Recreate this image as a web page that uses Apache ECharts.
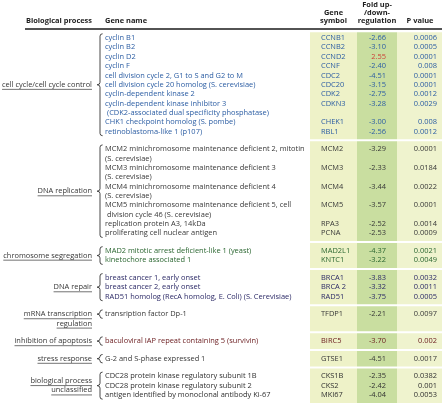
<!DOCTYPE html>
<html><head><meta charset="utf-8">
<script src="https://cdn.jsdelivr.net/npm/echarts@6/dist/echarts.min.js"></script>
<style>html,body{margin:0;padding:0;background:#fff}#c{width:442px;height:403px}</style>
</head><body><div id="c"></div>
<script>
// ---------------- DATA ----------------
const groupNames = [
  'cell cycle/cell cycle control',
  'DNA replication',
  'chromosome segregation',
  'DNA repair',
  'mRNA transcription\nregulation',
  'inhibition of apoptosis',
  'stress response',
  'biological process\nunclassified'
];
const geneNames = [
  ['cyclin B1','cyclin B2','cyclin D2','cyclin F','cell division cycle 2, G1 to S and G2 to M',
   'cell division cycle 20 homolog (S. cerevisiae)','cyclin-dependent kinase 2',
   'cyclin-dependent kinase inhibitor 3\n (CDK2-associated dual specificity phosphatase)',
   'CHK1 checkpoint homolog (S. pombe)','retinoblastoma-like 1 (p107)'],
  ['MCM2 minichromosome maintenance deficient 2, mitotin\n(S. cerevisiae)',
   'MCM3 minichromosome maintenance deficient 3\n(S. cerevisiae)',
   'MCM4 minichromosome maintenance deficient 4\n(S. cerevisiae)',
   'MCM5 minichromosome maintenance deficient 5, cell\n division cycle 46 (S. cerevisiae)',
   'replication protein A3, 14kDa','proliferating cell nuclear antigen'],
  ['MAD2 mitotic arrest deficient-like 1 (yeast)','kinetochore associated 1'],
  ['breast cancer 1, early onset','breast cancer 2, early onset','RAD51 homolog (RecA homolog, E. Coli) (S. Cerevisiae)'],
  ['transription factor Dp-1'],
  ['baculoviral IAP repeat containing 5 (survivin)'],
  ['G-2 and S-phase expressed 1'],
  ['CDC28 protein kinase regulatory subunit 1B','CDC28 protein kinase regulatory subunit 2','antigen identified by monoclonal antibody Ki-67']
];
const geneSymbols = [
  ['CCNB1','CCNB2','CCND2','CCNF','CDC2','CDC20','CDK2','CDKN3','CHEK1','RBL1'],
  ['MCM2','MCM3','MCM4','MCM5','RPA3','PCNA'],
  ['MAD2L1','KNTC1'],
  ['BRCA1','BRCA 2','RAD51'],
  ['TFDP1'],
  ['BIRC5'],
  ['GTSE1'],
  ['CKS1B','CKS2','MKI67']
];
const foldChanges = [
  [-2.66,-3.10,2.55,-2.40,-4.51,-3.15,-2.75,-3.28,-3.00,-2.56],
  [-3.29,-2.33,-3.44,-3.57,-2.52,-2.53],
  [-4.37,-3.22],
  [-3.83,-3.32,-3.75],
  [-2.21],
  [-3.70],
  [-4.51],
  [-2.35,-2.42,-4.04]
];
const pValues = [
  ['0.0006','0.0005','0.0001','0.008','0.0001','0.0001','0.0012','0.0029','0.008','0.0012'],
  ['0.0001','0.0184','0.0022','0.0001','0.0014','0.0009'],
  ['0.0021','0.0049'],
  ['0.0032','0.0011','0.0005'],
  ['0.0097'],
  ['0.002'],
  ['0.0017'],
  ['0.0382','0.001','0.0053']
];
const headerLabels = {
  process: 'Biological process',
  name: 'Gene name',
  symbol: 'Gene\nsymbol',
  fold: 'Fold up-\n/down-\nregulation',
  p: 'P value'
};

// ---------------- STYLE / LAYOUT ----------------
const groupColors = ['#2b5da3','#383838','#2a6630','#2b2966','#383838','#691a1d','#383838','#303030'];
const upColor = '#cc4238';
const labelColor = '#353535';
const FONT = '"Open Sans", "Noto Sans", sans-serif';
const cv = document.createElement('canvas').getContext('2d');
cv.font = '10px "Open Sans"';
const FS = Math.max(6, Math.min(9, 10 * 200 / cv.measureText('MCM2 minichromosome maintenance deficient 2, mitotin').width));
function textW(t, bold) { cv.font = (bold ? 'bold ' : '') + FS + 'px "Open Sans"'; return cv.measureText(t).width; }

const X = { ruleLeft: 25, labelRight: 92, braceX: 100, name: 105, sym: 321, foldRight: 386, pRight: 437 };
const columns = [[310, 357, '#eef2c8'], [357, 397, '#c9dea0'], [397, 442, '#eff3ce']];
const firstRowPx = 38, linePx = 9.35, GAP = 0.883;
const yMin = -firstRowPx / linePx, yMax = yMin + 403 / linePx;
const pxV = p => (p - firstRowPx) / linePx;

// build row layout (line units)
const rows = [], groupsInfo = [];
let cur = 0;
groupNames.forEach((gn, gi) => {
  const start = cur; let li = 0;
  geneNames[gi].forEach((nm, k) => {
    const lines = nm.split('\n');
    rows.push({ v: start + li, lines, sym: geneSymbols[gi][k], fold: foldChanges[gi][k], p: pValues[gi][k], g: gi });
    li += lines.length;
  });
  const labelLines = gn.split('\n');
  const nLines = Math.max(li, labelLines.length);
  groupsInfo.push({ start, geneLines: li, nLines, labelLines });
  cur = start + nLines + GAP;
});
groupsInfo.forEach((g, i) => {
  g.top = i === 0 ? -0.62 : groupsInfo[i - 1].start + groupsInfo[i - 1].nLines - 0.5 + GAP / 2;
  g.bottom = i === groupsInfo.length - 1 ? yMax : g.start + g.nLines - 0.5 + GAP / 2;
});

function txt(text, x, y, fill, align, bold) {
  return { type: 'text', silent: true, style: { text, x, y, fill, align: align || 'left', verticalAlign: 'middle',
    fontSize: FS, fontFamily: FONT, fontWeight: bold ? 'bold' : 'normal' } };
}

const chart = echarts.init(document.getElementById('c'), null, { renderer: 'canvas' });
chart.setOption({
  animation: false,
  backgroundColor: '#ffffff',
  grid: { left: 0, right: 0, top: 0, bottom: 0 },
  xAxis: { type: 'value', min: 0, max: 442, show: false },
  yAxis: { type: 'value', min: yMin, max: yMax, inverse: true, show: false },
  series: [
    { // background bands
      type: 'custom', silent: true, data: groupsInfo.map((g, i) => [0, g.start, i]),
      renderItem(params, api) {
        const g = groupsInfo[api.value(2)];
        const i = api.value(2);
        const y0 = api.coord([0, g.top])[1] + (i === 0 ? 0 : 1);
        const y1 = api.coord([0, g.bottom])[1] - (i === groupsInfo.length - 1 ? 0 : 1);
        return { type: 'group', children: columns.map(c => {
          const x0 = api.coord([c[0], 0])[0], x1 = api.coord([c[1], 0])[0];
          return { type: 'rect', shape: { x: x0, y: y0, width: x1 - x0, height: y1 - y0 }, style: { fill: c[2] } };
        }) };
      }
    },
    { // header
      type: 'custom', silent: true, data: [[0, 0]],
      renderItem(params, api) {
        const c = (x, p) => api.coord([x, pxV(p)]);
        const ch = [];
        ch.push(txt(headerLabels.process, c(X.labelRight, 0)[0], c(0, 20.5)[1], '#1e1e1e', 'right', true));
        ch.push(txt(headerLabels.name, c(X.name, 0)[0], c(0, 20.5)[1], '#1e1e1e', 'left', true));
        headerLabels.symbol.split('\n').forEach((t, k) => ch.push(txt(t, c(333.5, 0)[0], c(0, 12.8 + k * 8)[1], '#1e1e1e', 'center', true)));
        headerLabels.fold.split('\n').forEach((t, k) => ch.push(txt(t, c(377, 0)[0], c(0, 4.8 + k * 8)[1], '#1e1e1e', 'center', true)));
        ch.push(txt(headerLabels.p, c(420, 0)[0], c(0, 20.8)[1], '#1e1e1e', 'center', true));
        const a = c(X.ruleLeft, 29), b = c(442, 29);
        ch.push({ type: 'line', shape: { x1: a[0], y1: a[1], x2: b[0], y2: b[1] }, style: { stroke: '#1a1a1a', lineWidth: 1.4 } });
        return { type: 'group', children: ch };
      }
    },
    { // group labels, underline, brace
      type: 'custom', silent: true, data: groupsInfo.map((g, i) => [0, g.start, i]),
      renderItem(params, api) {
        const i = api.value(2), g = groupsInfo[i];
        const ch = [];
        const center = (g.geneLines - 1) / 2;
        let s = center - (g.labelLines.length - 1) / 2; if (s < 0) s = 0;
        g.labelLines.forEach((t, k) => {
          const p = api.coord([X.labelRight, g.start + s + k]);
          ch.push(txt(t, p[0], p[1], labelColor, 'right'));
          const w = textW(t);
          const uy = p[1] + FS * 0.62;
          ch.push({ type: 'line', shape: { x1: p[0] - w, y1: uy, x2: p[0], y2: uy }, style: { stroke: '#444', lineWidth: 0.75 } });
        });
        // brace
        const yt = api.coord([0, g.start - 0.45])[1];
        const yb = api.coord([0, g.start + g.geneLines - 0.55])[1];
        const yc = (yt + yb) / 2;
        const xm = api.coord([X.braceX, 0])[0], xr = xm + 2.6, xt = xm - 2.9;
        const r = Math.min(2.4, (yb - yt) / 4);
        const d = `M${xr},${yt} Q${xm},${yt} ${xm},${yt + r} L${xm},${yc - r} Q${xm},${yc} ${xt},${yc} Q${xm},${yc} ${xm},${yc + r} L${xm},${yb - r} Q${xm},${yb} ${xr},${yb}`;
        ch.push({ type: 'path', shape: { pathData: d }, style: { stroke: '#333', fill: null, lineWidth: 0.9 } });
        return { type: 'group', children: ch };
      }
    },
    { // gene rows
      type: 'custom', silent: true, data: rows.map((r, i) => [0, r.v, i]),
      renderItem(params, api) {
        const r = rows[api.value(2)];
        const col = groupColors[r.g];
        const ch = [];
        r.lines.forEach((t, k) => {
          const p = api.coord([X.name, r.v + k]);
          ch.push(txt(t, p[0], p[1], col, 'left'));
        });
        const y = api.coord([0, r.v])[1];
        ch.push(txt(r.sym, api.coord([X.sym, 0])[0], y, col, 'left'));
        ch.push(txt(r.fold.toFixed(2), api.coord([X.foldRight, 0])[0], y, r.fold > 0 ? upColor : col, 'right'));
        ch.push(txt(r.p, api.coord([X.pRight, 0])[0], y, col, 'right'));
        return { type: 'group', children: ch };
      }
    }
  ]
});
</script></body></html>
